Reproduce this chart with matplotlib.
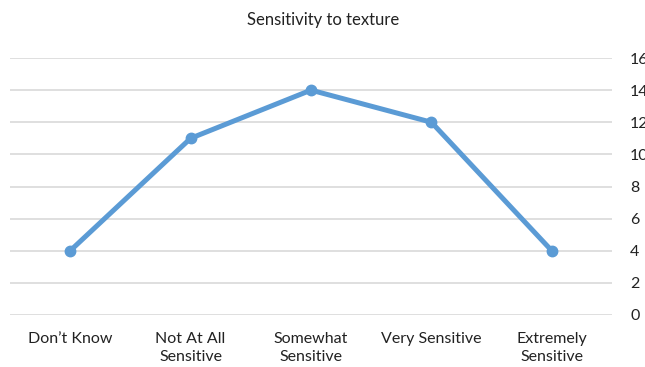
import matplotlib
matplotlib.use("Agg")
import matplotlib.pyplot as plt

categories = ["Don\u2019t Know", "Not At All\nSensitive", "Somewhat\nSensitive", "Very Sensitive", "Extremely\nSensitive"]
values = [4, 11, 14, 12, 4]
yticks = [0, 2, 4, 6, 8, 10, 12, 14, 16]

plt.rcParams['font.family'] = ['Lato', 'DejaVu Sans']

fig = plt.figure(figsize=(6.45, 3.67), dpi=100)
ax = fig.add_axes([10/645, 1-315/367, (612-10)/645, (315-58)/367])

x = list(range(len(categories)))
ax.plot(x, values, color='#5B9BD5', linewidth=3.6, marker='o', markersize=7.5,
        solid_capstyle='round', zorder=3)

ax.set_xlim(-0.5, len(categories) - 0.5)
ax.set_ylim(0, 16)
ax.set_yticks(yticks)
ax.yaxis.tick_right()
ax.tick_params(axis='y', length=0, pad=13, labelsize=11.5, colors='#222222')
ax.set_xticks(x)
ax.set_xticklabels(categories, linespacing=1.35)
ax.tick_params(axis='x', length=0, pad=12, labelsize=11.5, colors='#222222')
for lab in ax.get_yticklabels():
    lab.set_horizontalalignment('left')
ax.grid(axis='y', color='#D9D9D9', linewidth=1.2)
ax.set_axisbelow(True)
for s in ax.spines.values():
    s.set_visible(False)

fig.text(323/645, 1-20/367, "Sensitivity to texture", ha='center', va='center', fontsize=12, color='#222222')

fig.savefig("out.png", dpi=100)
